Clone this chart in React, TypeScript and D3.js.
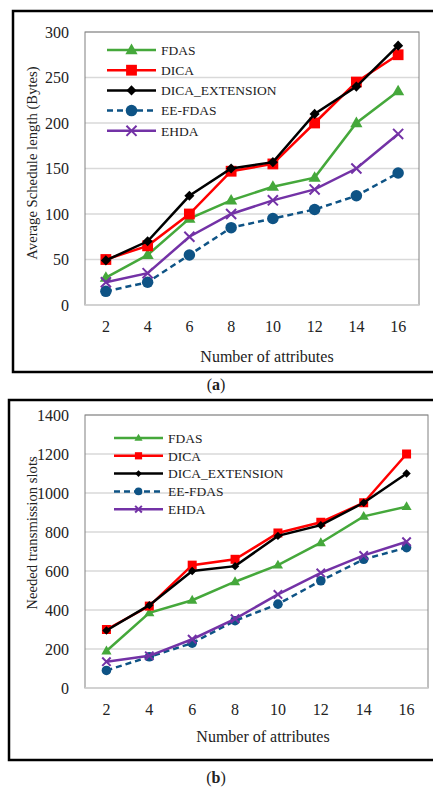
import React from "react";
import * as d3 from "d3";

const categories = ["2", "4", "6", "8", "10", "12", "14", "16"];
const seriesNames = ["FDAS", "DICA", "DICA_EXTENSION", "EE-FDAS", "EHDA"];

// Chart (a)
const aFDAS = [30, 55, 95, 115, 130, 140, 200, 235];
const aDICA = [50, 65, 100, 147, 155, 200, 245, 275];
const aDICAExt = [49, 70, 120, 150, 157, 210, 240, 285];
const aEEFDAS = [15, 25, 55, 85, 95, 105, 120, 145];
const aEHDA = [25, 35, 75, 100, 115, 127, 150, 188];
const aTicks = [0, 50, 100, 150, 200, 250, 300];

// Chart (b)
const bFDAS = [190, 385, 450, 545, 630, 745, 880, 930];
const bDICA = [300, 420, 630, 660, 795, 850, 950, 1200];
const bDICAExt = [295, 425, 600, 625, 780, 835, 950, 1100];
const bEEFDAS = [90, 160, 230, 345, 430, 550, 660, 720];
const bEHDA = [135, 165, 250, 355, 480, 590, 680, 750];
const bTicks = [0, 200, 400, 600, 800, 1000, 1200, 1400];

const styles = [
  { color: "#45A83B", marker: "triangle", dash: "" },
  { color: "#FF0000", marker: "square", dash: "" },
  { color: "#000000", marker: "diamond", dash: "" },
  { color: "#0E5385", marker: "circle", dash: "6,4" },
  { color: "#7332A6", marker: "x", dash: "" },
];

const FONT = "'Liberation Serif', 'Times New Roman', serif";

function Marker({ type, x, y, s, color }: any) {
  if (type === "triangle") {
    const sym = d3.symbol().type(d3.symbolTriangle).size(s * s * 0.45)();
    return <path d={sym!} transform={`translate(${x},${y + s * 0.05})`} fill={color} />;
  }
  if (type === "square") {
    const h = s * 0.45;
    return <rect x={x - h} y={y - h} width={2 * h} height={2 * h} fill={color} />;
  }
  if (type === "diamond") {
    const h = s * 0.42;
    return <path d={`M${x},${y - h}L${x + h},${y}L${x},${y + h}L${x - h},${y}Z`} fill={color} />;
  }
  if (type === "circle") {
    return <circle cx={x} cy={y} r={s * 0.48} fill={color} />;
  }
  const h = s * 0.42;
  return (
    <path
      d={`M${x - h},${y - h}L${x + h},${y + h}M${x - h},${y + h}L${x + h},${y - h}`}
      stroke={color}
      strokeWidth={2}
      fill="none"
    />
  );
}

function Chart({ cfg }: any) {
  const x = d3.scaleBand().domain(categories).range([cfg.left, cfg.right]);
  const y = d3
    .scaleLinear()
    .domain([0, cfg.ticks[cfg.ticks.length - 1]])
    .range([cfg.bottom, cfg.top]);
  const line = d3
    .line<number>()
    .x((_, i) => x(categories[i])! + x.bandwidth() / 2)
    .y((d) => y(d));
  return (
    <g style={{ fontFamily: FONT }}>
      <rect
        x={cfg.boxX}
        y={cfg.boxY}
        width={460}
        height={cfg.boxB - cfg.boxY}
        fill="white"
        stroke="#000"
        strokeWidth={2.5}
      />
      {cfg.ticks.map((t: number) => (
        <g key={t}>
          {t > 0 && (
            <line x1={cfg.left} x2={cfg.right} y1={y(t)} y2={y(t)} stroke="#d9d9d9" strokeWidth={1.3} />
          )}
          <text x={69} y={y(t)} dy="0.35em" textAnchor="end" fontSize={16} fill="#222">
            {t}
          </text>
        </g>
      ))}
      <rect
        x={cfg.left}
        y={cfg.top}
        width={cfg.right - cfg.left}
        height={cfg.bottom - cfg.top}
        fill="none"
        stroke="#808080"
        strokeWidth={1}
      />
      <line x1={cfg.left} x2={cfg.right} y1={cfg.bottom} y2={cfg.bottom} stroke="#d9d9d9" strokeWidth={1.5} />
      {categories.map((c) => (
        <text
          key={c}
          x={x(c)! + x.bandwidth() / 2}
          y={cfg.xLabY}
          dy="0.35em"
          textAnchor="middle"
          fontSize={16}
          fill="#222"
        >
          {c}
        </text>
      ))}
      <text x={cfg.xTitleX} y={cfg.xTitleY} dy="0.35em" textAnchor="middle" fontSize={16} fill="#222">
        Number of attributes
      </text>
      <text
        transform={`translate(${cfg.yTitleX},${cfg.yTitleY}) rotate(-90)`}
        dy="0.35em"
        textAnchor="middle"
        fontSize={14.7}
        fill="#222"
      >
        {cfg.yTitle}
      </text>
      {cfg.series.map((vals: number[], si: number) => (
        <g key={si}>
          <path
            d={line(vals)!}
            fill="none"
            stroke={styles[si].color}
            strokeWidth={2.5}
            strokeDasharray={styles[si].dash}
          />
          {vals.map((v, i) => (
            <Marker
              key={i}
              type={styles[si].marker}
              x={x(categories[i])! + x.bandwidth() / 2}
              y={y(v)}
              s={cfg.markerSize}
              color={styles[si].color}
            />
          ))}
        </g>
      ))}
      {seriesNames.map((n, si) => {
        const ly = cfg.legY + si * cfg.legStep;
        return (
          <g key={n}>
            <line
              x1={cfg.legX1}
              x2={cfg.legX2}
              y1={ly}
              y2={ly}
              stroke={styles[si].color}
              strokeWidth={2.5}
              strokeDasharray={styles[si].dash}
            />
            <Marker
              type={styles[si].marker}
              x={(cfg.legX1 + cfg.legX2) / 2}
              y={ly}
              s={cfg.legMarker}
              color={styles[si].color}
            />
            <text x={cfg.legX2 + 5} y={ly} dy="0.35em" fontSize={13.5} fill="#222">
              {n}
            </text>
          </g>
        );
      })}
      <text x={216} y={cfg.capY} dy="0.35em" textAnchor="middle" fontSize={16} fill="#222">
        (<tspan fontWeight="bold">{cfg.cap}</tspan>)
      </text>
    </g>
  );
}

const cfgA = {
  boxX: 13,
  boxY: 11,
  boxB: 372,
  left: 85,
  right: 419,
  top: 32,
  bottom: 305,
  ticks: aTicks,
  xLabY: 326,
  xTitleX: 267,
  xTitleY: 356,
  yTitleX: 32,
  yTitleY: 163,
  yTitle: "Average Schedule length (Bytes)",
  series: [aFDAS, aDICA, aDICAExt, aEEFDAS, aEHDA],
  markerSize: 12,
  legY: 50,
  legStep: 20.2,
  legX1: 107,
  legX2: 156,
  legMarker: 12,
  capY: 384,
  cap: "a",
};

const cfgB = {
  boxX: 9,
  boxY: 400,
  boxB: 760,
  left: 85,
  right: 428,
  top: 415,
  bottom: 688,
  ticks: bTicks,
  xLabY: 709,
  xTitleX: 263,
  xTitleY: 736,
  yTitleX: 32,
  yTitleY: 533,
  yTitle: "Needed transmission slots",
  series: [bFDAS, bDICA, bDICAExt, bEEFDAS, bEHDA],
  markerSize: 10,
  legY: 438,
  legStep: 17.8,
  legX1: 114,
  legX2: 163,
  legMarker: 8,
  capY: 777,
  cap: "b",
};

export default function App() {
  return (
    <svg
      width={433}
      height={787}
      style={{ position: "absolute", left: 0, top: 0, background: "white" }}
    >
      <rect width={433} height={787} fill="white" />
      <Chart cfg={cfgA} />
      <Chart cfg={cfgB} />
    </svg>
  );
}
